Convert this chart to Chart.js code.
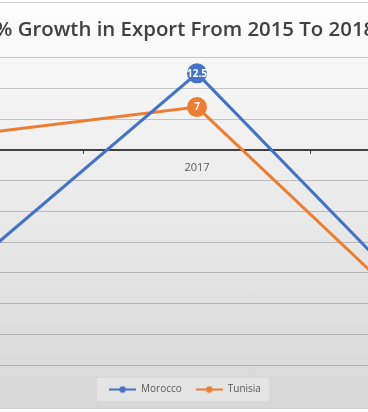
<!DOCTYPE html>
<html>
<head>
<meta charset="utf-8">
<script src="https://cdn.jsdelivr.net/npm/chart.js@4/dist/chart.umd.min.js"></script>
<style>
  html, body { margin: 0; padding: 0; background: #fff; overflow: hidden; }
  #bg {
    position: absolute; left: -178px; top: 2px; width: 726px; height: 407px;
    box-sizing: border-box; border-top: 1px solid #d0d0d0; border-bottom: 1px solid #d0d0d0;
    background: linear-gradient(#fdfdfd, #d7d7d7);
  }
  #grafico { position: absolute; left: -178px; top: 0; }
</style>
</head>
<body>
<div id="bg"></div>
<canvas id="grafico" width="726" height="412"></canvas>
<script>
// dados
const anos = ['2016', '2017', '2018'];
const marrocos = [-19, 12.5, -25.6];
const tunisia = [2.5, 7, -28];
const eixoY = { min: -35, max: 15, passo: 5 };
const titulo = '% Growth in Export From 2015 To 2018';

const azul = '#4472C4';
const laranja = '#ED7D31';

// marcador da legenda: linha com bolinha
function marcador(cor) {
  const c = document.createElement('canvas');
  c.width = 27; c.height = 8;
  const g = c.getContext('2d');
  g.strokeStyle = cor; g.lineWidth = 2;
  g.beginPath(); g.moveTo(0, 4); g.lineTo(27, 4); g.stroke();
  g.fillStyle = cor;
  g.beginPath(); g.arc(13.5, 4, 3.2, 0, Math.PI * 2); g.fill();
  return c;
}
const marcadores = [marcador(azul), marcador(laranja)];

// rótulos brancos dentro das bolinhas
const rotulos = {
  id: 'rotulos',
  afterDatasetsDraw(chart) {
    const ctx = chart.ctx;
    ctx.save();
    ctx.fillStyle = '#fff';
    ctx.font = 'bold 10px "Open Sans"';
    ctx.textAlign = 'center';
    ctx.textBaseline = 'middle';
    chart.data.datasets.forEach((ds, i) => {
      chart.getDatasetMeta(i).data.forEach((p, j) => {
        ctx.fillText(String(ds.data[j]), p.x, p.y + 0.5);
      });
    });
    ctx.restore();
  }
};

// caixa de fundo da legenda
const fundoLegenda = {
  id: 'fundoLegenda',
  beforeDraw(chart) {
    const caixas = chart.legend.legendHitBoxes;
    if (!caixas || !caixas.length) return;
    const esq = Math.min(...caixas.map(b => b.left)) - 12;
    const dir = Math.max(...caixas.map(b => b.left + b.width)) + 8;
    const meio = caixas[0].top + caixas[0].height / 2;
    const ctx = chart.ctx;
    ctx.save();
    ctx.fillStyle = 'rgba(255,255,255,0.3)';
    ctx.fillRect(esq, meio - 11.5, dir - esq, 23);
    ctx.restore();
  }
};

const ctx = document.getElementById('grafico').getContext('2d');

new Chart(ctx, {
  type: 'line',
  data: {
    labels: anos,
    datasets: [
      {
        label: 'Morocco',
        data: marrocos,
        borderColor: azul,
        backgroundColor: azul,
        borderWidth: 3,
        pointRadius: 10,
        pointBorderWidth: 0,
        pointBackgroundColor: azul
      },
      {
        label: 'Tunisia',
        data: tunisia,
        borderColor: laranja,
        backgroundColor: laranja,
        borderWidth: 3,
        pointRadius: 10,
        pointBorderWidth: 0,
        pointBackgroundColor: laranja
      }
    ]
  },
  options: {
    responsive: false,
    animation: false,
    layout: { padding: { left: 10, right: 10, top: 0, bottom: 7.5 } },
    plugins: {
      tooltip: { enabled: false },
      title: {
        display: true,
        text: titulo,
        color: '#404040',
        font: { family: 'Open Sans', size: 20.4, weight: '600', lineHeight: 1.2 },
        padding: { top: 18, bottom: 15.5 }
      },
      legend: {
        display: true,
        position: 'bottom',
        // titulo vazio só para afastar a legenda da área do gráfico
        title: { display: true, text: '', font: { size: 5, lineHeight: 1.1 }, padding: 0 },
        labels: {
          color: '#595959',
          font: { family: 'Open Sans', size: 10 },
          usePointStyle: true,
          pointStyleWidth: 27,
          padding: 14,
          generateLabels(chart) {
            return chart.data.datasets.map((ds, i) => ({
              text: ds.label,
              pointStyle: marcadores[i],
              fontColor: '#595959',
              lineWidth: 0,
              datasetIndex: i
            }));
          }
        }
      }
    },
    scales: {
      x: {
        type: 'category',
        position: { y: 0 },
        offset: true,
        grid: { drawOnChartArea: false, drawTicks: true, tickLength: 3, color: '#404040', offset: true },
        border: { color: '#404040', width: 2 },
        ticks: { color: '#595959', font: { family: 'Open Sans', size: 11 }, padding: 8 }
      },
      y: {
        min: eixoY.min,
        max: eixoY.max,
        ticks: { stepSize: eixoY.passo, display: false },
        grid: { color: 'rgba(0,0,0,0.2)', drawTicks: false },
        border: { display: false },
        afterFit(s) { s.width = 24; }
      }
    }
  },
  plugins: [fundoLegenda, rotulos]
});
</script>
</body>
</html>
